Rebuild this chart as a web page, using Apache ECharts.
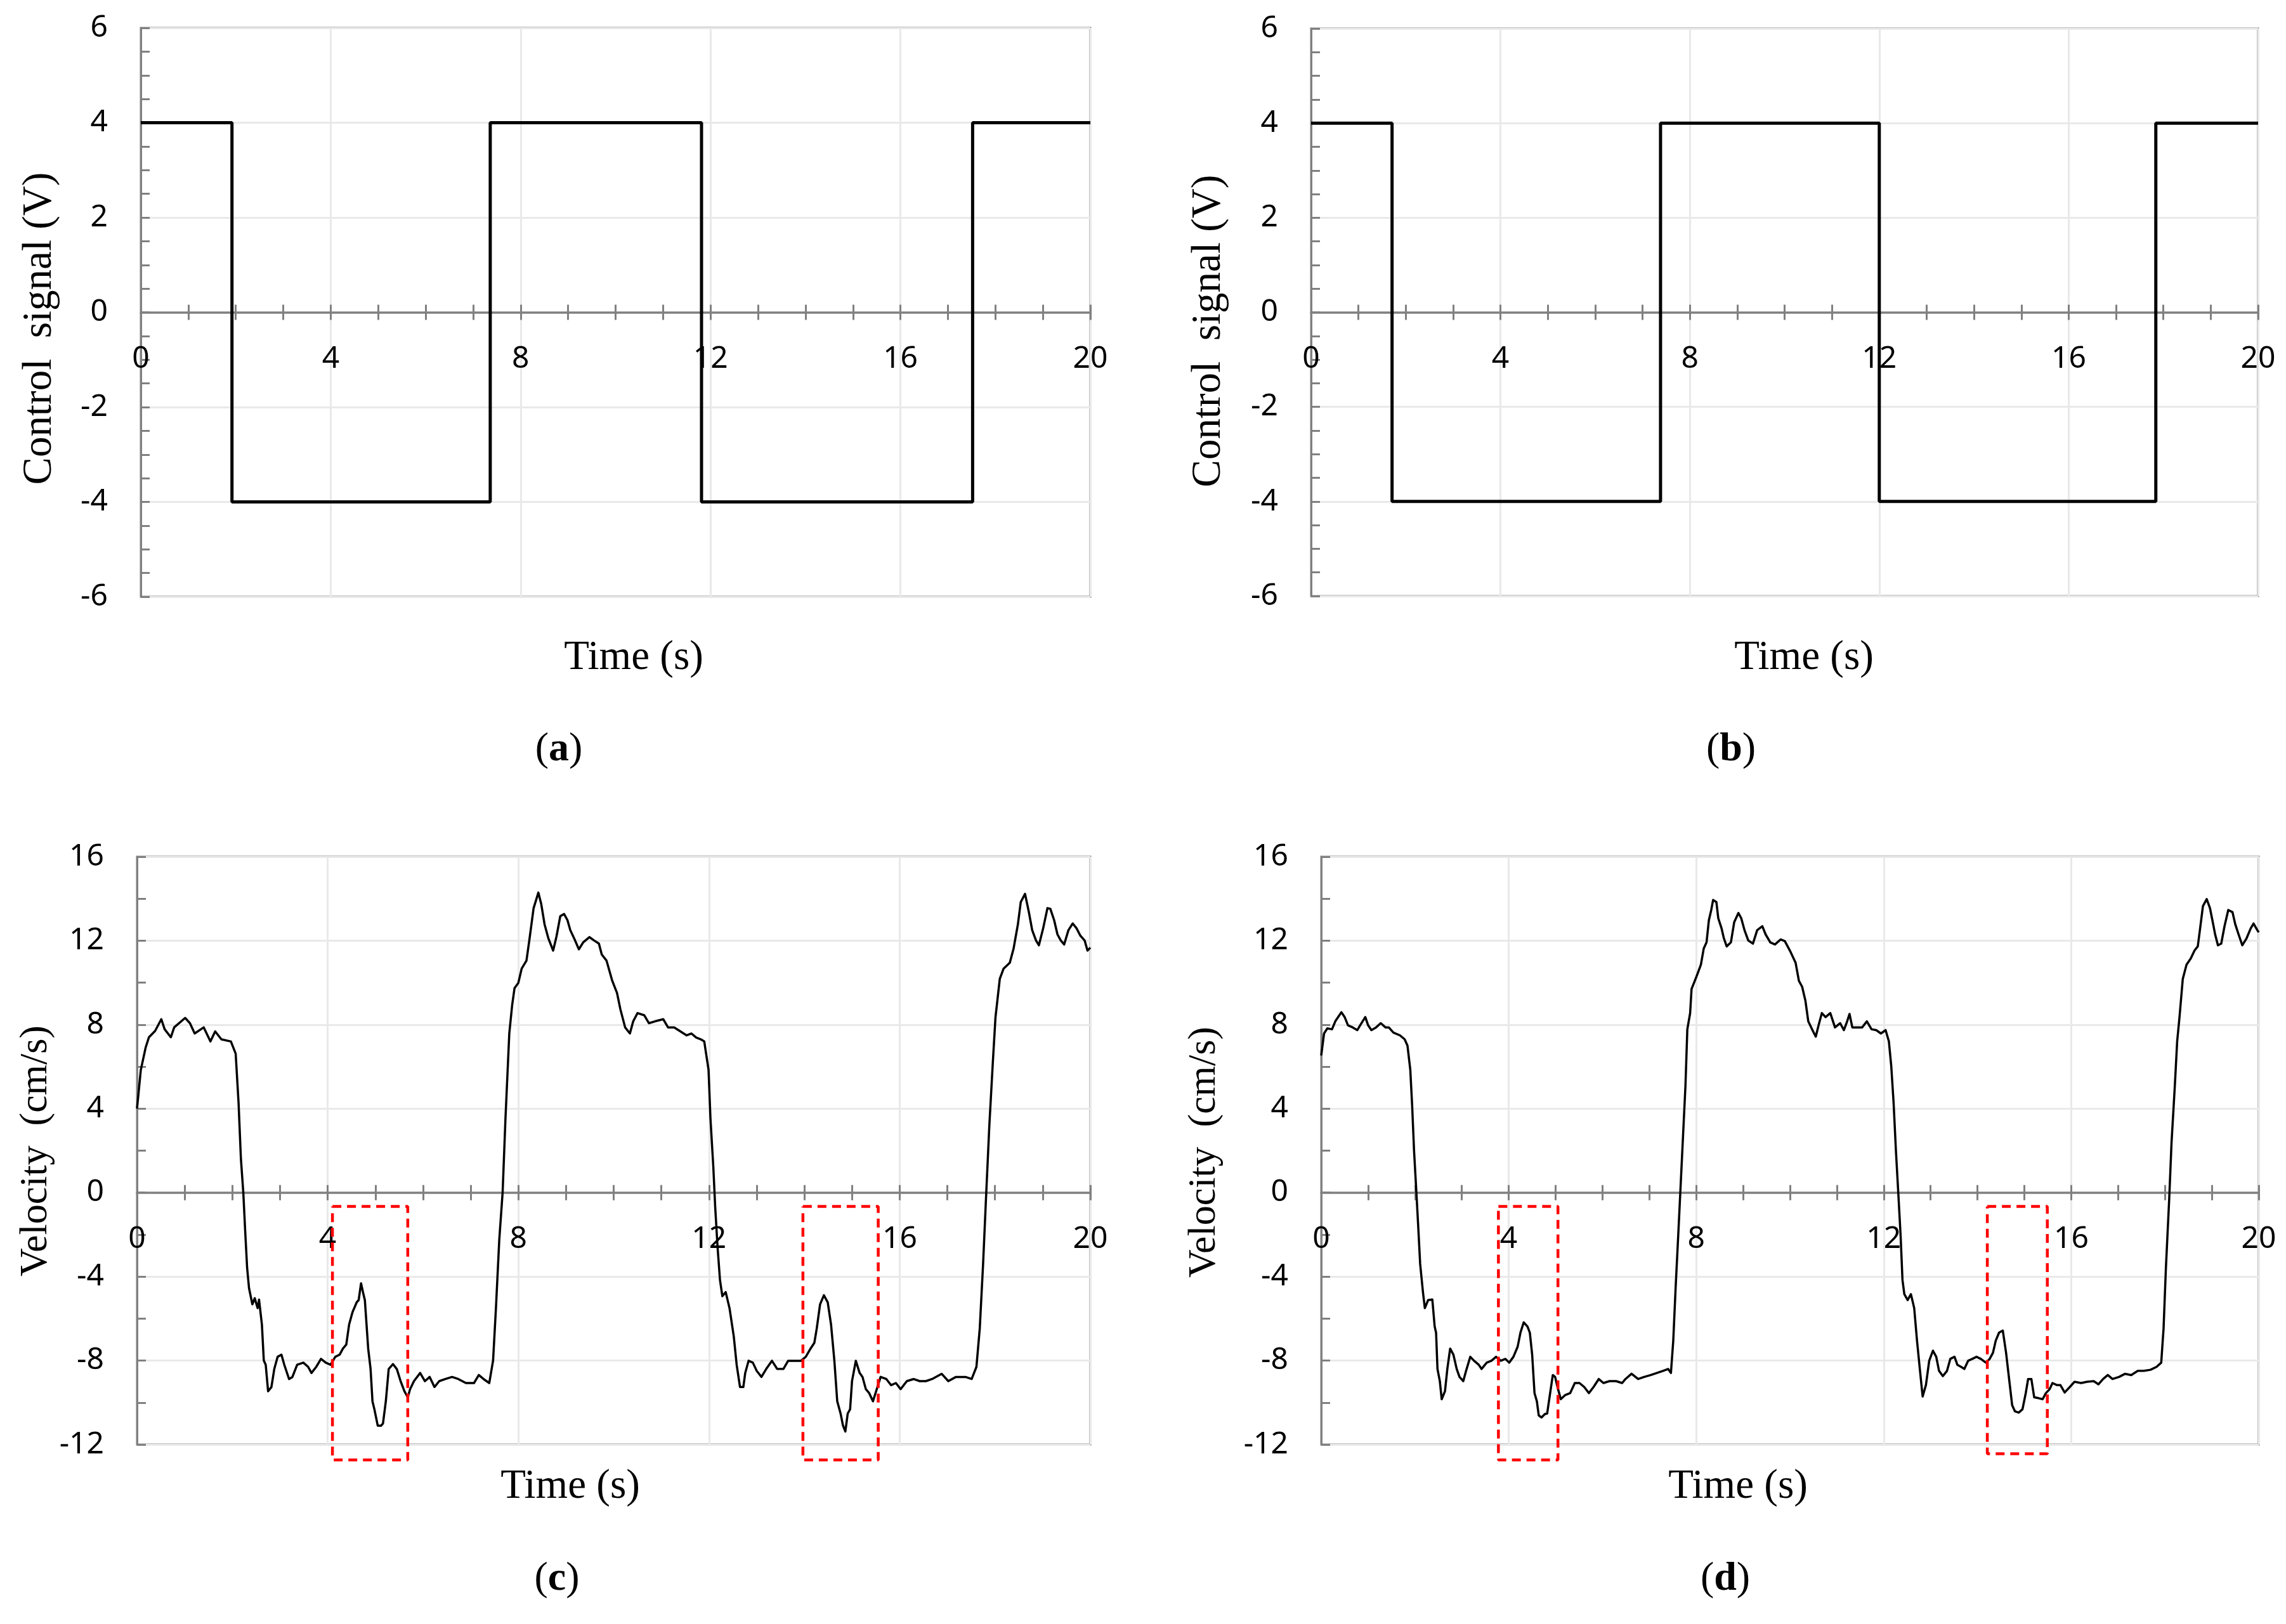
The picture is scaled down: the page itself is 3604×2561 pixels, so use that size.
<!DOCTYPE html>
<html>
<head>
<meta charset="utf-8">
<title>Control signal and velocity</title>
<script src="https://cdn.jsdelivr.net/npm/echarts@6/dist/echarts.min.js"></script>
<style>
  html, body { margin: 0; padding: 0; background: #fff; }
  #chart { width: 3604px; height: 2561px; }
</style>
</head>
<body>
<div id="chart"></div>
<script>
// Tín hiệu điều khiển (a), (b): thời điểm đổi mức và mức điện áp
const timeA = [0, 1.92, 7.36, 11.81, 17.52, 20];
const signalA = [4, -4, 4, -4, 4, 4];
const timeB = [0, 1.71, 7.38, 12.0, 17.84, 20];
const signalB = [4, -4, 4, -4, 4, 4];

// Vận tốc (c)
const timeC = [0, 0.08, 0.18, 0.25, 0.38, 0.51, 0.58, 0.71, 0.78, 1.01, 1.11, 1.21, 1.40, 1.54, 1.64, 1.77, 1.97,
    2.07, 2.13, 2.18, 2.23, 2.27, 2.31, 2.35, 2.42, 2.47, 2.53, 2.56, 2.62, 2.66, 2.70, 2.75, 2.82, 2.88, 2.95,
    3.03, 3.09, 3.19, 3.26, 3.36, 3.49, 3.59, 3.66, 3.76, 3.86, 3.96, 4.06, 4.16, 4.25, 4.32, 4.39, 4.45, 4.52,
    4.61, 4.65, 4.70, 4.74, 4.78, 4.85, 4.90, 4.94, 4.98, 5.05, 5.12, 5.16, 5.22, 5.28, 5.37, 5.45, 5.53, 5.61,
    5.68, 5.73, 5.81, 5.94, 6.04, 6.14, 6.24, 6.34, 6.47, 6.61, 6.74, 6.90, 7.07, 7.17, 7.27, 7.39, 7.47, 7.53,
    7.60, 7.67, 7.73, 7.81, 7.87, 7.92, 8.00, 8.07, 8.17, 8.23, 8.32, 8.42, 8.48, 8.55, 8.63, 8.73, 8.80, 8.88,
    8.96, 9.03, 9.09, 9.19, 9.27, 9.36, 9.49, 9.59, 9.69, 9.75, 9.85, 9.97, 10.07, 10.14, 10.24, 10.34, 10.41,
    10.50, 10.64, 10.74, 10.87, 11.04, 11.14, 11.27, 11.40, 11.53, 11.63, 11.73, 11.83, 11.90, 11.99, 12.03,
    12.09, 12.13, 12.18, 12.23, 12.28, 12.35, 12.43, 12.52, 12.58, 12.65, 12.72, 12.76, 12.83, 12.92, 13.00,
    13.10, 13.20, 13.32, 13.43, 13.56, 13.66, 13.79, 13.93, 14.03, 14.13, 14.21, 14.26, 14.33, 14.41, 14.49,
    14.56, 14.63, 14.69, 14.76, 14.81, 14.86, 14.91, 14.96, 15.00, 15.08, 15.16, 15.22, 15.29, 15.36, 15.44,
    15.52, 15.60, 15.72, 15.82, 15.92, 16.02, 16.15, 16.29, 16.42, 16.55, 16.68, 16.88, 17.02, 17.18, 17.38,
    17.51, 17.61, 17.68, 17.75, 17.81, 17.88, 17.95, 18.01, 18.10, 18.18, 18.31, 18.39, 18.48, 18.54, 18.63,
    18.71, 18.78, 18.86, 18.92, 19.01, 19.10, 19.16, 19.24, 19.31, 19.38, 19.45, 19.54, 19.63, 19.71, 19.79,
    19.88, 19.94, 20.0];
const velocityC = [4.0, 5.85, 6.9, 7.4, 7.7, 8.26, 7.78, 7.4, 7.87, 8.32, 8.07, 7.58, 7.87, 7.2, 7.68, 7.3, 7.2,
    6.62, 4.3, 1.6, 0, -1.85, -3.58, -4.55, -5.32, -5.03, -5.5, -5.1, -6.28, -8.0, -8.2, -9.46, -9.26, -8.4, -7.82,
    -7.72, -8.2, -8.88, -8.78, -8.2, -8.1, -8.3, -8.59, -8.3, -7.92, -8.1, -8.2, -7.82, -7.72, -7.43, -7.24, -6.28, -5.7,
    -5.22, -5.12, -4.32, -4.74, -5.12, -7.43, -8.4, -9.94, -10.32, -11.1, -11.1, -11.0, -9.94, -8.4, -8.17, -8.4, -8.98, -9.46,
    -9.75, -9.36, -8.98, -8.59, -8.98, -8.78, -9.26, -8.98, -8.88, -8.78, -8.88, -9.07, -9.07, -8.69, -8.88, -9.07, -8.0, -5.5,
    -2.24, 0, 3.54, 7.58, 8.93, 9.74, 9.99, 10.67, 11.05, 12.01, 13.55, 14.29, 13.75, 12.78, 12.11, 11.53, 12.2, 13.17,
    13.27, 12.98, 12.5, 12.01, 11.59, 11.92, 12.17, 12.01, 11.86, 11.34, 11.05, 10.09, 9.51, 8.74, 7.87, 7.58, 8.16,
    8.55, 8.45, 8.07, 8.16, 8.26, 7.87, 7.87, 7.68, 7.49, 7.58, 7.39, 7.3, 7.2, 5.85, 3.54,
    1.23, -0.7, -2.62, -4.16, -4.93, -4.74, -5.5, -6.86, -8.2, -9.26, -9.26, -8.59, -8.01, -8.1, -8.49,
    -8.78, -8.4, -8.01, -8.4, -8.4, -8.01, -8.01, -8.01, -7.82, -7.43, -7.15, -6.47, -5.32, -4.89, -5.22,
    -6.28, -8.01, -9.94, -10.52, -11.09, -11.38, -10.52, -10.32, -8.98, -8.01, -8.59, -8.78, -9.36, -9.55, -9.94,
    -9.36, -8.78, -8.88, -9.17, -9.07, -9.36, -8.98, -8.88, -8.98, -8.98, -8.88, -8.63, -8.98, -8.78, -8.78,
    -8.88, -8.3, -6.47, -3.39, -0.31, 3.16, 6.04, 8.36, 10.18, 10.67, 10.95, 11.63, 12.78, 13.84, 14.23,
    13.36, 12.5, 12.01, 11.78, 12.59, 13.55, 13.52, 12.98, 12.3, 12.01, 11.82, 12.5, 12.82, 12.59, 12.24,
    12.01, 11.53, 11.67];

// Vận tốc (d)
const timeD = [0, 0.06, 0.13, 0.23, 0.30, 0.43, 0.50, 0.57, 0.67, 0.77, 0.83, 0.94, 1.00, 1.07, 1.17, 1.27, 1.37,
    1.44, 1.54, 1.68, 1.78, 1.84, 1.90, 1.94, 1.98, 2.03, 2.07, 2.11, 2.17, 2.21, 2.28, 2.37, 2.42, 2.45, 2.48,
    2.53, 2.57, 2.64, 2.69, 2.75, 2.82, 2.89, 2.95, 3.03, 3.09, 3.18, 3.26, 3.36, 3.42, 3.53, 3.63, 3.73, 3.83,
    3.93, 4.01, 4.10, 4.19, 4.25, 4.32, 4.40, 4.45, 4.50, 4.55, 4.60, 4.64, 4.70, 4.77, 4.82, 4.87, 4.94, 4.99,
    5.04, 5.11, 5.20, 5.31, 5.41, 5.51, 5.61, 5.71, 5.81, 5.92, 6.02, 6.15, 6.29, 6.42, 6.49, 6.62, 6.76, 6.89,
    7.03, 7.16, 7.29, 7.40, 7.46, 7.51, 7.56, 7.62, 7.66, 7.72, 7.77, 7.81, 7.87, 7.90, 7.97, 8.02, 8.10, 8.16,
    8.22, 8.27, 8.32, 8.36, 8.43, 8.47, 8.54, 8.59, 8.65, 8.74, 8.81, 8.90, 8.96, 9.03, 9.11, 9.21, 9.30, 9.41,
    9.48, 9.58, 9.68, 9.80, 9.89, 10.00, 10.12, 10.19, 10.26, 10.33, 10.39, 10.48, 10.55, 10.61, 10.68, 10.76,
    10.86, 10.96, 11.07, 11.15, 11.22, 11.27, 11.33, 11.44, 11.54, 11.64, 11.74, 11.84, 11.94, 12.04, 12.11,
    12.16, 12.21, 12.26, 12.31, 12.36, 12.40, 12.44, 12.51, 12.58, 12.65, 12.71, 12.77, 12.83, 12.90, 12.97,
    13.05, 13.12, 13.18, 13.26, 13.35, 13.42, 13.51, 13.57, 13.65, 13.72, 13.80, 13.89, 13.98, 14.07, 14.18,
    14.26, 14.33, 14.39, 14.46, 14.54, 14.61, 14.68, 14.74, 14.80, 14.88, 14.96, 15.03, 15.08, 15.15, 15.21,
    15.30, 15.39, 15.46, 15.54, 15.60, 15.70, 15.77, 15.86, 15.97, 16.07, 16.21, 16.34, 16.48, 16.58, 16.68,
    16.78, 16.88, 17.02, 17.15, 17.28, 17.42, 17.55, 17.69, 17.82, 17.92, 17.97, 18.02, 18.09, 18.14, 18.21,
    18.26, 18.31, 18.38, 18.46, 18.55, 18.63, 18.70, 18.75, 18.81, 18.89, 18.96, 19.02, 19.07, 19.13, 19.20,
    19.27, 19.35, 19.44, 19.50, 19.57, 19.65, 19.74, 19.83, 19.89, 19.97, 20.0];
const velocityD = [6.53, 7.58, 7.82, 7.78, 8.16, 8.59, 8.36, 7.97, 7.87, 7.74, 7.97, 8.36, 7.97, 7.74, 7.87, 8.07, 7.87,
    7.87, 7.62, 7.49, 7.3, 7.0, 5.85, 4.12, 2.0, 0, -1.66, -3.39, -4.74, -5.5, -5.12, -5.09, -6.38, -6.67, -8.4,
    -8.98, -9.84, -9.46, -8.4, -7.43, -7.72, -8.4, -8.78, -8.98, -8.49, -7.82, -8.01, -8.2, -8.4, -8.1, -8.01, -7.82, -8.01,
    -7.92, -8.1, -7.82, -7.34, -6.67, -6.18, -6.38, -6.67, -7.72, -9.55, -9.94, -10.61, -10.71, -10.55, -10.52, -9.75, -8.69, -8.78,
    -9.26, -9.84, -9.65, -9.55, -9.07, -9.07, -9.26, -9.55, -9.26, -8.88, -9.07, -8.98, -8.98, -9.07, -8.88, -8.63, -8.88, -8.78,
    -8.69, -8.59, -8.49, -8.4, -8.59, -7.05, -4.55, -1.85, 0, 2.77, 5.08, 7.78, 8.55, 9.7, 10.09, 10.38, 10.86, 11.63,
    11.92, 12.98, 13.46, 13.94, 13.84, 13.07, 12.59, 12.11, 11.73, 11.92, 12.88, 13.32, 13.07, 12.5, 12.01, 11.86, 12.5, 12.69,
    12.3, 11.92, 11.82, 12.06, 11.98, 11.52, 10.95, 10.09, 9.8, 9.13, 8.16, 7.74, 7.43, 7.97, 8.55, 8.36,
    8.55, 7.87, 8.07, 7.74, 8.16, 8.51, 7.87, 7.87, 7.87, 8.16, 7.78, 7.74, 7.58, 7.74, 7.2,
    6.04, 4.31, 2.0, 0, -2.04, -4.16, -4.84, -5.12, -4.84, -5.5, -7.05, -8.4, -9.71, -9.17, -8.01,
    -7.53, -7.82, -8.49, -8.74, -8.49, -7.92, -7.82, -8.2, -8.3, -8.4, -8.01, -7.92, -7.82, -7.92, -8.1,
    -7.92, -7.63, -7.05, -6.67, -6.57, -7.63, -8.98, -10.13, -10.42, -10.48, -10.32, -9.55, -8.88, -8.88, -9.75,
    -9.79, -9.84, -9.55, -9.36, -9.07, -9.17, -9.17, -9.52, -9.26, -9.01, -9.07, -9.01, -8.98, -9.13, -8.88,
    -8.69, -8.88, -8.78, -8.63, -8.69, -8.49, -8.49, -8.44, -8.3, -8.1, -6.47, -3.58, -0.31, 2.39, 5.08,
    7.2, 8.36, 10.18, 10.86, 11.15, 11.53, 11.73, 12.59, 13.65, 13.98, 13.55, 12.88, 12.3, 11.78, 11.86,
    12.69, 13.46, 13.36, 12.78, 12.3, 11.78, 12.11, 12.59, 12.82, 12.5, 12.4];

// Khung đỏ nét đứt: [t bắt đầu, t kết thúc, v trên, v dưới]
const boxesC = [[4.10, 5.68, -0.66, -12.73], [13.97, 15.55, -0.66, -12.73]];
const boxesD = [[3.78, 5.05, -0.66, -12.73], [14.21, 15.49, -0.66, -12.44]];

// Nhãn trục
const xTickLabels = [0, 4, 8, 12, 16, 20];
const yTicksSignal = { min: -6, max: 6, interval: 2, minorSplit: 4 };
const yTicksVelocity = { min: -12, max: 16, interval: 4, minorSplit: 2 };

const GRAY = '#808080';
const GRID_LINE = '#e9e9e9';
const TICK_FONT = 'Noto Sans';
const TICK_SIZE = 48;
const SERIF = 'Liberation Serif';

// Vị trí 4 ô biểu đồ
const grids = [
    { left: 222, top: 44, width: 1497, height: 897 },
    { left: 2067, top: 45, width: 1493, height: 895 },
    { left: 216, top: 1351, width: 1503, height: 927 },
    { left: 2083, top: 1351, width: 1478, height: 927 }
];
const gridTicks = [yTicksSignal, yTicksSignal, yTicksVelocity, yTicksVelocity];

function zip(xs, ys) {
    return xs.map((x, i) => [x, ys[i]]);
}

// Chuyển khung thành đường khép kín, ngắt giữa các khung
function boxPath(boxes) {
    const pts = [];
    boxes.forEach(([t1, t2, top, bottom], i) => {
        if (i > 0) pts.push(['-', '-']);
        pts.push([t1, top], [t2, top], [t2, bottom], [t1, bottom], [t1, top]);
    });
    return pts;
}

// Trục thời gian nằm tại v = 0: dời trục bằng offset tính từ khoảng của trục y
function makeXAxes(gridIndex) {
    const g = grids[gridIndex];
    const t = gridTicks[gridIndex];
    const zeroFromBottom = g.height * (0 - t.min) / (t.max - t.min);
    const base = {
        type: 'value',
        gridIndex: gridIndex,
        min: 0,
        max: 20,
        interval: 4
    };
    const tickStyle = { color: GRAY, width: 3 };
    return [
        Object.assign({}, base, {
            position: 'bottom',
            offset: -zeroFromBottom,
            axisLine: { show: true, onZero: false, lineStyle: { color: GRAY, width: 3.5 } },
            axisTick: { show: true, length: 12, lineStyle: tickStyle },
            minorTick: { show: true, splitNumber: 4, length: 12, lineStyle: tickStyle },
            axisLabel: {
                margin: 50, fontSize: TICK_SIZE, color: '#000', fontFamily: TICK_FONT,
                formatter: v => (xTickLabels.indexOf(v) >= 0 ? String(v) : '')
            },
            splitLine: { show: true, lineStyle: { color: GRID_LINE, width: 3 } }
        }),
        // trục phụ chỉ để vẽ phần vạch chia phía trên đường 0
        Object.assign({}, base, {
            position: 'top',
            offset: -(g.height - zeroFromBottom),
            axisLine: { show: false, onZero: false },
            axisTick: { show: true, length: 12, lineStyle: tickStyle },
            minorTick: { show: true, splitNumber: 4, length: 12, lineStyle: tickStyle },
            axisLabel: { show: false },
            splitLine: { show: false }
        })
    ];
}

function makeYAxis(gridIndex, ticks) {
    return {
        type: 'value',
        gridIndex: gridIndex,
        min: ticks.min,
        max: ticks.max,
        interval: ticks.interval,
        axisLine: { show: true, onZero: false, lineStyle: { color: GRAY, width: 3 } },
        axisTick: { show: true, inside: true, length: 14, lineStyle: { color: GRAY, width: 3 } },
        minorTick: { show: true, splitNumber: ticks.minorSplit, length: 14, lineStyle: { color: GRAY, width: 3 } },
        axisLabel: { margin: 52, fontSize: TICK_SIZE, color: '#000', fontFamily: TICK_FONT },
        splitLine: { show: true, lineStyle: { color: GRID_LINE, width: 3 } }
    };
}

function signalSeries(idx, xs, ys) {
    return {
        type: 'line',
        xAxisIndex: idx * 2,
        yAxisIndex: idx,
        step: 'end',
        data: zip(xs, ys),
        symbol: 'none',
        lineStyle: { color: '#000', width: 5 },
        z: 5
    };
}

function velocitySeries(idx, xs, ys) {
    return {
        type: 'line',
        xAxisIndex: idx * 2,
        yAxisIndex: idx,
        data: zip(xs, ys),
        symbol: 'none',
        lineStyle: { color: '#000', width: 3.5, join: 'round' },
        z: 5
    };
}

function boxSeries(idx, boxes) {
    return {
        type: 'line',
        xAxisIndex: idx * 2,
        yAxisIndex: idx,
        data: boxPath(boxes),
        symbol: 'none',
        clip: false,
        connectNulls: false,
        lineStyle: { color: '#ff0000', width: 4.5, type: [14, 9] },
        z: 6
    };
}

function text(x, y, str, size, rotate) {
    return {
        type: 'text',
        x: x,
        y: y,
        rotation: rotate ? Math.PI / 2 : 0,
        style: {
            text: str,
            fontFamily: SERIF,
            fontSize: size,
            fill: '#000',
            textAlign: 'center',
            textVerticalAlign: 'middle'
        }
    };
}

function panelLabel(x, y, letter) {
    return {
        type: 'text',
        x: x,
        y: y,
        style: {
            text: '(' + '{b|' + letter + '}' + ')',
            fontFamily: SERIF,
            fontSize: 64,
            fill: '#000',
            textAlign: 'center',
            textVerticalAlign: 'middle',
            rich: { b: { fontFamily: SERIF, fontSize: 64, fontWeight: 'bold', fill: '#000' } }
        }
    };
}

const chart = echarts.init(document.getElementById('chart'));
chart.setOption({
    animation: false,
    backgroundColor: '#fff',
    grid: grids.map(g => Object.assign({ show: true, borderColor: GRAY, borderWidth: 3, containLabel: false }, g)),
    xAxis: [].concat(makeXAxes(0), makeXAxes(1), makeXAxes(2), makeXAxes(3)),
    yAxis: [
        makeYAxis(0, yTicksSignal),
        makeYAxis(1, yTicksSignal),
        makeYAxis(2, yTicksVelocity),
        makeYAxis(3, yTicksVelocity)
    ],
    series: [
        signalSeries(0, timeA, signalA),
        signalSeries(1, timeB, signalB),
        velocitySeries(2, timeC, velocityC),
        velocitySeries(3, timeD, velocityD),
        boxSeries(2, boxesC),
        boxSeries(3, boxesD)
    ],
    graphic: [
        text(63, 518, 'Control  signal (V)', 65, true),
        text(1906, 522, 'Control  signal (V)', 65, true),
        text(57, 1815, 'Velocity  (cm/s)', 62, true),
        text(1899, 1817, 'Velocity  (cm/s)', 62, true),
        text(999, 1038, 'Time (s)', 65, false),
        text(2844, 1038, 'Time (s)', 65, false),
        text(899, 2345, 'Time (s)', 65, false),
        text(2740, 2345, 'Time (s)', 65, false),
        panelLabel(881, 1182, 'a'),
        panelLabel(2729, 1182, 'b'),
        panelLabel(878, 2490, 'c'),
        panelLabel(2720, 2490, 'd')
    ]
});
</script>
</body>
</html>
